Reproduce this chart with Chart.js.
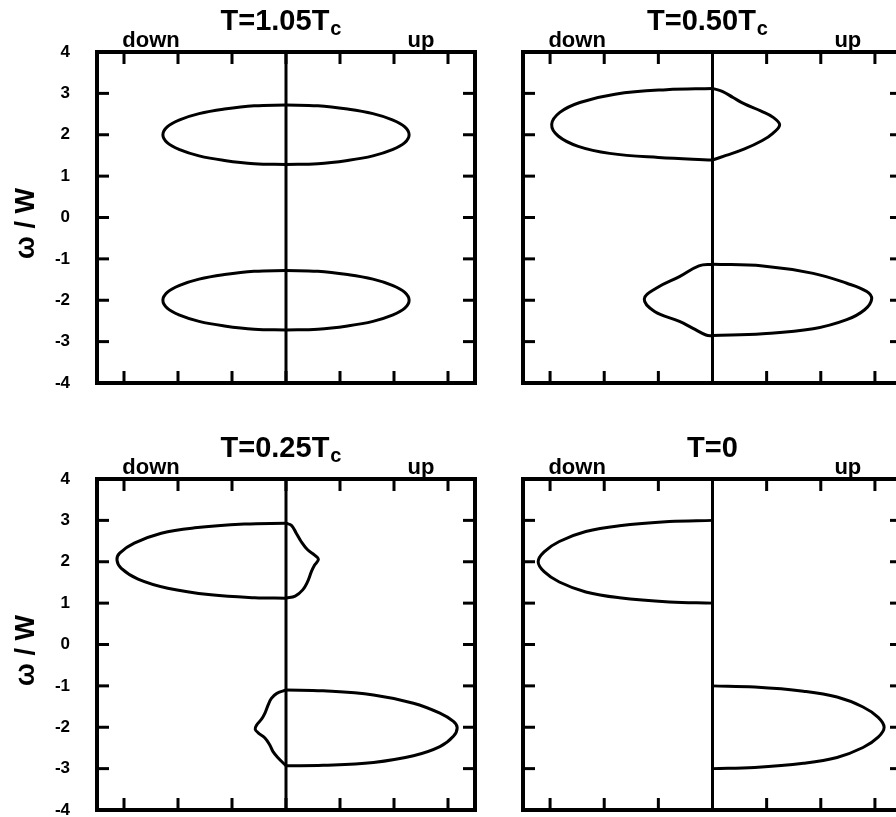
<!DOCTYPE html>
<html>
<head>
<meta charset="utf-8">
<script src="https://cdn.jsdelivr.net/npm/chart.js@4.4.1/dist/chart.umd.min.js"></script>
<style>
  html, body { margin: 0; padding: 0; background: #fff; overflow: hidden; }
  #page { position: relative; width: 896px; height: 817px; overflow: hidden; }
  canvas { position: absolute; }
</style>
</head>
<body>
<div id="page">
  <canvas id="p105" width="480" height="400" style="left:0;top:0;width:480px;height:400px"></canvas>
  <canvas id="p050" width="480" height="400" style="left:440px;top:0;width:480px;height:400px"></canvas>
  <canvas id="p025" width="480" height="417" style="left:0;top:400px;width:480px;height:417px"></canvas>
  <canvas id="p000" width="480" height="417" style="left:440px;top:400px;width:480px;height:417px"></canvas>
</div>
<script>
// axis ticks
const yTicks = [-4, -3, -2, -1, 0, 1, 2, 3, 4];
const xTicks = [-3, -2, -1, 0, 1, 2, 3];

// T = 1.05 Tc : both spin channels identical
const w105Hi   = [2.72, 2.70, 2.62, 2.51, 2.36, 2.19, 2.00, 1.81, 1.64, 1.49, 1.38, 1.30, 1.28];
const dos105Hi = [0, 0.59, 1.14, 1.61, 1.97, 2.20, 2.28, 2.20, 1.97, 1.61, 1.14, 0.59, 0];
const w105Lo   = [-1.28, -1.30, -1.38, -1.49, -1.64, -1.81, -2.00, -2.19, -2.36, -2.51, -2.62, -2.70, -2.72];
const dos105Lo = [0, 0.59, 1.14, 1.61, 1.97, 2.20, 2.28, 2.20, 1.97, 1.61, 1.14, 0.59, 0];

// T = 0.50 Tc
const w050HiDn   = [3.12, 3.09, 2.98, 2.78, 2.54, 2.25, 1.97, 1.72, 1.55, 1.45, 1.39];
const dos050HiDn = [0, 0.85, 1.80, 2.45, 2.82, 2.97, 2.85, 2.48, 1.90, 1.00, 0];
const w050HiUp   = [3.12, 3.05, 2.90, 2.75, 2.57, 2.42, 2.24, 2.04, 1.86, 1.65, 1.50, 1.39];
const dos050HiUp = [0, 0.18, 0.38, 0.58, 0.90, 1.12, 1.24, 1.12, 0.92, 0.58, 0.25, 0];
const w050LoDn   = [-1.13, -1.17, -1.43, -1.71, -1.97, -2.27, -2.51, -2.68, -2.84, -2.86];
const dos050LoDn = [0, 0.25, 0.61, 1.04, 1.26, 1.07, 0.61, 0.36, 0.12, 0];
const w050LoUp   = [-1.13, -1.17, -1.35, -1.59, -1.79, -1.97, -2.23, -2.47, -2.69, -2.81, -2.85];
const dos050LoUp = [0, 0.93, 1.86, 2.48, 2.85, 2.94, 2.81, 2.48, 1.86, 0.93, 0];

// T = 0.25 Tc
const w025HiDn   = [2.93, 2.91, 2.82, 2.69, 2.45, 2.21, 2.04, 1.84, 1.58, 1.36, 1.20, 1.13, 1.12];
const dos025HiDn = [0, 0.77, 1.69, 2.31, 2.81, 3.08, 3.13, 3.05, 2.74, 2.19, 1.39, 0.58, 0];
const w025HiUp   = [2.93, 2.88, 2.69, 2.49, 2.29, 2.16, 2.06, 1.92, 1.76, 1.52, 1.32, 1.17, 1.12];
const dos025HiUp = [0, 0.10, 0.19, 0.28, 0.40, 0.53, 0.60, 0.53, 0.47, 0.40, 0.31, 0.17, 0];
const w025LoDn   = [-1.10, -1.18, -1.30, -1.46, -1.66, -1.80, -1.94, -2.05, -2.14, -2.26, -2.43, -2.59, -2.75, -2.93];
const dos025LoDn = [0, 0.17, 0.27, 0.33, 0.39, 0.45, 0.54, 0.57, 0.51, 0.39, 0.30, 0.24, 0.14, 0];
const w025LoUp   = [-1.10, -1.12, -1.22, -1.42, -1.66, -1.86, -2.01, -2.22, -2.47, -2.69, -2.85, -2.92, -2.93];
const dos025LoUp = [0, 0.69, 1.62, 2.36, 2.85, 3.10, 3.17, 3.10, 2.85, 2.36, 1.62, 0.69, 0];

// T = 0 : fully polarised bands
const w000HiDn   = [3.00, 2.97, 2.87, 2.73, 2.49, 2.24, 2.00, 1.76, 1.51, 1.27, 1.13, 1.03, 1.00];
const dos000HiDn = [0, 0.80, 1.72, 2.34, 2.83, 3.11, 3.22, 3.11, 2.83, 2.34, 1.72, 0.80, 0];
const w000LoUp   = [-1.00, -1.03, -1.13, -1.27, -1.51, -1.76, -2.00, -2.24, -2.49, -2.73, -2.87, -2.97, -3.00];
const dos000LoUp = [0, 0.78, 1.68, 2.30, 2.78, 3.06, 3.17, 3.06, 2.78, 2.30, 1.68, 0.78, 0];

const FONT = '"Liberation Sans", Arial, Helvetica, sans-serif';
const DOWN = -1, UP = 1;

function curve(w, dos, spin) {
  return {
    data: w.map((v, i) => ({ x: spin * dos[i], y: v })),
    showLine: true,
    borderColor: '#000',
    borderWidth: 3,
    pointRadius: 0,
    tension: 0.4,
    fill: false
  };
}

function line(ctx, x1, y1, x2, y2) {
  ctx.beginPath();
  ctx.moveTo(x1, y1);
  ctx.lineTo(x2, y2);
  ctx.stroke();
}

// frame, inward ticks, zero line and the texts around each panel
const frame = {
  id: 'frame',
  afterDatasetsDraw(chart, args, opts) {
    const { ctx, chartArea: a } = chart;
    const x = chart.scales.x, y = chart.scales.y;
    ctx.save();
    ctx.strokeStyle = '#000';
    ctx.fillStyle = '#000';

    ctx.lineWidth = 3;
    const x0 = x.getPixelForValue(0);
    line(ctx, x0, a.top, x0, a.bottom);

    yTicks.forEach(v => {
      const py = y.getPixelForValue(v);
      line(ctx, a.left, py, a.left + 12, py);
      line(ctx, a.right, py, a.right - 12, py);
    });
    xTicks.forEach(v => {
      const px = x.getPixelForValue(v);
      line(ctx, px, a.top, px, a.top + 12);
      line(ctx, px, a.bottom, px, a.bottom - 12);
    });

    ctx.lineWidth = 4;
    ctx.strokeRect(a.left, a.top, a.right - a.left, a.bottom - a.top);

    ctx.textAlign = 'center';
    ctx.textBaseline = 'alphabetic';
    ctx.font = 'bold 22px ' + FONT;
    ctx.fillText('down', x.getPixelForValue(-2.5), a.top - 5);
    ctx.fillText('up', x.getPixelForValue(2.5), a.top - 5);

    // title, with an optional subscript
    const cx = (a.left + a.right) / 2;
    ctx.textAlign = 'left';
    ctx.font = 'bold 29px ' + FONT;
    const mw = ctx.measureText(opts.title).width;
    ctx.font = 'bold 20px ' + FONT;
    const sw = opts.sub ? ctx.measureText(opts.sub).width + 1 : 0;
    const sx = cx - (mw + sw) / 2 - (opts.sub ? 5 : 0);
    ctx.font = 'bold 29px ' + FONT;
    ctx.fillText(opts.title, sx, a.top - 22);
    if (opts.sub) {
      ctx.font = 'bold 20px ' + FONT;
      ctx.fillText(opts.sub, sx + mw + 1, a.top - 17);
    }

    if (opts.yTitle) {
      ctx.translate(27, (a.top + a.bottom) / 2 + 6);
      ctx.rotate(-Math.PI / 2);
      ctx.textAlign = 'center';
      ctx.textBaseline = 'middle';
      ctx.font = 'bold 27px ' + FONT;
      ctx.fillText(opts.yTitle, 0, 0);
    }
    ctx.restore();
  }
};

function makePanel(id, datasets, opts, padding, leftAxis) {
  new Chart(document.getElementById(id), {
    type: 'scatter',
    data: { datasets },
    options: {
      responsive: false,
      animation: false,
      events: [],
      layout: { padding },
      plugins: {
        legend: { display: false },
        tooltip: { enabled: false },
        frame: opts
      },
      scales: {
        x: { type: 'linear', min: -3.5, max: 3.5, display: false },
        y: {
          type: 'linear', min: -4, max: 4,
          display: leftAxis,
          grid: { display: false, drawTicks: false },
          border: { display: false },
          ticks: {
            stepSize: 1,
            color: '#000',
            padding: 27,
            font: { family: FONT, size: 17, weight: 'bold' }
          },
          // fixed axis width, and keep the label padding from shrinking the plot
          afterFit: s => {
            if (leftAxis) s.width = 97;
            s.paddingTop = 0;
            s.paddingBottom = 0;
          }
        }
      }
    },
    plugins: [frame]
  });
}

makePanel('p105', [
  curve(w105Hi, dos105Hi, DOWN), curve(w105Hi, dos105Hi, UP),
  curve(w105Lo, dos105Lo, DOWN), curve(w105Lo, dos105Lo, UP)
], { title: 'T=1.05T', sub: 'c', yTitle: 'ω / W' }, { left: 0, top: 52, right: 5, bottom: 17 }, true);

makePanel('p050', [
  curve(w050HiDn, dos050HiDn, DOWN), curve(w050HiUp, dos050HiUp, UP),
  curve(w050LoDn, dos050LoDn, DOWN), curve(w050LoUp, dos050LoUp, UP)
], { title: 'T=0.50T', sub: 'c' }, { left: 83, top: 52, right: 18, bottom: 17 }, false);

makePanel('p025', [
  curve(w025HiDn, dos025HiDn, DOWN), curve(w025HiUp, dos025HiUp, UP),
  curve(w025LoDn, dos025LoDn, DOWN), curve(w025LoUp, dos025LoUp, UP)
], { title: 'T=0.25T', sub: 'c', yTitle: 'ω / W' }, { left: 0, top: 79, right: 5, bottom: 7 }, true);

makePanel('p000', [
  curve(w000HiDn, dos000HiDn, DOWN),
  curve(w000LoUp, dos000LoUp, UP)
], { title: 'T=0' }, { left: 83, top: 79, right: 18, bottom: 7 }, false);
</script>
</body>
</html>
